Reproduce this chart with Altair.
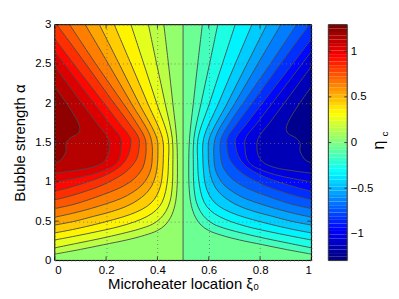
import altair as alt
import pandas as pd
import numpy as np

# ---- contour levels of eta_c (left half, xi0 < 0.5); the right half is antisymmetric ----
LEVELS = [0.1, 0.2, 0.3, 0.4, 0.5, 0.6, 0.7, 0.8, 0.9, 1.0, 1.1, 1.2]

ALPHA_01 = [0.08, 0.14, 0.20, 0.26, 0.32, 0.38, 0.45, 0.55, 0.70, 0.90, 1.20, 1.55, 2.00, 2.50, 3.00]
XI_01 = [0.00, 0.10, 0.19, 0.28, 0.35, 0.40, 0.43, 0.452, 0.468, 0.476, 0.478, 0.475, 0.46, 0.443, 0.425]

ALPHA_02 = [0.16, 0.22, 0.28, 0.34, 0.40, 0.46, 0.53, 0.62, 0.75, 0.95, 1.20, 1.55, 2.00, 2.50, 3.00]
XI_02 = [0.00, 0.09, 0.18, 0.26, 0.33, 0.38, 0.41, 0.432, 0.449, 0.458, 0.46, 0.458, 0.43, 0.397, 0.365]

ALPHA_03 = [0.26, 0.31, 0.37, 0.43, 0.49, 0.56, 0.64, 0.74, 0.88, 1.05, 1.25, 1.55, 2.00, 2.50, 3.00]
XI_03 = [0.00, 0.08, 0.17, 0.25, 0.31, 0.36, 0.395, 0.418, 0.432, 0.44, 0.443, 0.442, 0.397, 0.347, 0.297]

ALPHA_04 = [0.35, 0.40, 0.46, 0.52, 0.58, 0.65, 0.73, 0.83, 0.96, 1.12, 1.30, 1.55, 2.00, 2.50, 3.00]
XI_04 = [0.00, 0.08, 0.16, 0.23, 0.29, 0.34, 0.375, 0.398, 0.413, 0.42, 0.423, 0.42, 0.362, 0.297, 0.232]

ALPHA_05 = [0.45, 0.50, 0.56, 0.62, 0.69, 0.76, 0.85, 0.95, 1.08, 1.22, 1.38, 1.55, 2.00, 2.50, 3.00]
XI_05 = [0.00, 0.08, 0.15, 0.22, 0.28, 0.32, 0.355, 0.378, 0.393, 0.40, 0.402, 0.398, 0.328, 0.251, 0.174]

ALPHA_06 = [0.55, 0.60, 0.66, 0.72, 0.79, 0.87, 0.96, 1.06, 1.18, 1.32, 1.45, 1.60, 2.00, 2.50, 3.00]
XI_06 = [0.00, 0.07, 0.14, 0.20, 0.26, 0.305, 0.34, 0.362, 0.376, 0.38, 0.38, 0.37, 0.298, 0.209, 0.119]

ALPHA_07 = [0.66, 0.71, 0.77, 0.84, 0.91, 0.99, 1.08, 1.18, 1.30, 1.42, 1.55, 1.75, 2.10, 2.50, 3.00]
XI_07 = [0.00, 0.07, 0.13, 0.19, 0.245, 0.29, 0.322, 0.343, 0.353, 0.356, 0.352, 0.318, 0.245, 0.16, 0.058]

ALPHA_08 = [0.77, 0.82, 0.88, 0.95, 1.03, 1.11, 1.20, 1.30, 1.42, 1.55, 1.75, 2.05, 2.40, 2.70, 3.00]
XI_08 = [0.00, 0.06, 0.12, 0.18, 0.23, 0.27, 0.30, 0.32, 0.328, 0.328, 0.288, 0.22, 0.143, 0.076, 0.008]

ALPHA_09 = [0.88, 0.93, 0.99, 1.06, 1.14, 1.23, 1.33, 1.45, 1.55, 1.75, 2.05, 2.40, 2.82]
XI_09 = [0.00, 0.06, 0.12, 0.18, 0.23, 0.265, 0.285, 0.295, 0.295, 0.25, 0.18, 0.097, 0.00]

ALPHA_10 = [1.00, 1.04, 1.09, 1.15, 1.22, 1.30, 1.40, 1.55, 1.75, 2.00, 2.30, 2.66]
XI_10 = [0.00, 0.07, 0.14, 0.195, 0.235, 0.252, 0.258, 0.257, 0.211, 0.153, 0.083, 0.00]

ALPHA_11 = [1.11, 1.14, 1.18, 1.24, 1.32, 1.42, 1.55, 1.75, 2.00, 2.20, 2.47]
XI_11 = [0.00, 0.07, 0.14, 0.185, 0.205, 0.212, 0.208, 0.163, 0.106, 0.061, 0.00]

ALPHA_12 = [1.24, 1.28, 1.39, 1.49, 1.55, 1.62, 1.68, 1.77, 1.98, 2.21]
XI_12 = [0.00, 0.024, 0.044, 0.044, 0.057, 0.092, 0.098, 0.089, 0.05, 0.00]

ZERO_CONTOUR_XI = [0.5]

X_TICKS = [0, 0.2, 0.4, 0.6, 0.8, 1]
Y_TICKS = [0, 0.5, 1, 1.5, 2, 2.5, 3]
CB_TICKS = [-1, -0.5, 0, 0.5, 1]
C_MIN, C_MAX = -1.29, 1.29

CONTOURS = [
    (LEVELS[0], ALPHA_01, XI_01), (LEVELS[1], ALPHA_02, XI_02), (LEVELS[2], ALPHA_03, XI_03),
    (LEVELS[3], ALPHA_04, XI_04), (LEVELS[4], ALPHA_05, XI_05), (LEVELS[5], ALPHA_06, XI_06),
    (LEVELS[6], ALPHA_07, XI_07), (LEVELS[7], ALPHA_08, XI_08), (LEVELS[8], ALPHA_09, XI_09),
    (LEVELS[9], ALPHA_10, XI_10), (LEVELS[10], ALPHA_11, XI_11), (LEVELS[11], ALPHA_12, XI_12),
]


def jet_hex(v):
    v = min(max(v, 0.0), 1.0)
    r = min(max(1.5 - abs(4 * v - 3), 0), 1)
    g = min(max(1.5 - abs(4 * v - 2), 0), 1)
    b = min(max(1.5 - abs(4 * v - 1), 0), 1)
    return "#{:02x}{:02x}{:02x}".format(round(r * 255), round(g * 255), round(b * 255))


def eta_color(eta):
    return jet_hex((eta - C_MIN) / (C_MAX - C_MIN))


W, H = 258, 237
CBW = 19
LINE = "#4a4a4a"
FONT = "Liberation Sans"

xs = alt.Scale(domain=[0, 1], nice=False, zero=False)
ys = alt.Scale(domain=[0, 3], nice=False, zero=False)

axis_common = dict(
    labelFontSize=11.5, titleFontSize=15, titleFontWeight="normal",
    labelColor="black", titleColor="black", ticks=False, tickSize=0,
    domain=False, grid=True, gridDash=[1, 3], gridColor="#6f6f6f",
    gridWidth=0.8, zindex=1, format="~g", labelFont=FONT, titleFont=FONT,
)
x_axis = alt.Axis(title="Microheater location ξ₀", values=X_TICKS, labelPadding=4,
                  titlePadding=1, **axis_common)
y_axis = alt.Axis(title="Bubble strength α", values=Y_TICKS, labelPadding=4,
                  titlePadding=7, **axis_common)


def X(field):
    return alt.X(field, scale=xs, axis=x_axis)


def Y(field):
    return alt.Y(field, scale=ys, axis=y_axis)


# background bands (0 < eta < 0.1 on the left, -0.1 < eta < 0 on the right)
base_df = pd.DataFrame({"x0": [0, ZERO_CONTOUR_XI[0]], "x1": [ZERO_CONTOUR_XI[0], 1],
                        "y0": [0, 0], "y1": [3, 3],
                        "c": [eta_color(0.05), eta_color(-0.05)]})
base = alt.Chart(base_df).mark_rect().encode(
    x=X("x0:Q"), x2="x1:Q", y=Y("y0:Q"), y2="y1:Q",
    color=alt.Color("c:N", scale=None),
)

layers = [base]
line_rows = []
for lev, A, XX in CONTOURS:
    d = pd.DataFrame({"alpha": A, "xi": XX})
    d["xr"] = 1 - d["xi"]
    d["zero"] = 0.0
    d["one"] = 1.0
    left = alt.Chart(d).mark_area(orient="horizontal", interpolate="catmull-rom",
                                  color=eta_color(lev + 0.05), clip=True).encode(
        y=Y("alpha:Q"), x=X("xi:Q"), x2="zero:Q")
    right = alt.Chart(d).mark_area(orient="horizontal", interpolate="catmull-rom",
                                   color=eta_color(-(lev + 0.05)), clip=True).encode(
        y=Y("alpha:Q"), x=X("xr:Q"), x2="one:Q")
    layers += [left, right]
    for i, (a, x) in enumerate(zip(A, XX)):
        line_rows.append({"level": lev, "i": i, "alpha": a, "xi": x, "xr": 1 - x})

lines_df = pd.DataFrame(line_rows)
for fld in ["xi", "xr"]:
    layers.append(alt.Chart(lines_df).mark_line(
        interpolate="catmull-rom", color=LINE, strokeWidth=0.9, clip=True).encode(
        x=X(f"{fld}:Q"), y=Y("alpha:Q"), detail="level:N", order="i:Q"))

layers.append(alt.Chart(pd.DataFrame({"x": ZERO_CONTOUR_XI})).mark_rule(
    color=LINE, strokeWidth=0.9).encode(x=X("x:Q")))

xt = pd.DataFrame({"t": X_TICKS})
yt = pd.DataFrame({"t": Y_TICKS})
TICK_COL = "#222222"
layers.append(alt.Chart(xt).mark_rule(color=TICK_COL, strokeWidth=0.8).encode(
    x=X("t:Q"), y=alt.value(H), y2=alt.value(H - 4)))
layers.append(alt.Chart(xt).mark_rule(color=TICK_COL, strokeWidth=0.8).encode(
    x=X("t:Q"), y=alt.value(0), y2=alt.value(4)))
layers.append(alt.Chart(yt).mark_rule(color=TICK_COL, strokeWidth=0.8).encode(
    y=Y("t:Q"), x=alt.value(0), x2=alt.value(4)))
layers.append(alt.Chart(yt).mark_rule(color=TICK_COL, strokeWidth=0.8).encode(
    y=Y("t:Q"), x=alt.value(W), x2=alt.value(W - 4)))

one = pd.DataFrame({"k": [0]})
layers.append(alt.Chart(one).mark_rect(filled=False, stroke="black", strokeWidth=1).encode(
    x=alt.value(0), x2=alt.value(W), y=alt.value(0), y2=alt.value(H)))

main = alt.layer(*layers).properties(width=W, height=H)

# ---- colour bar ----
edges = np.linspace(C_MIN, C_MAX, 65)
cb_df = pd.DataFrame({"lo": edges[:-1], "hi": edges[1:],
                      "c": [jet_hex(i / 63) for i in range(64)]})
cscale = alt.Scale(domain=[C_MIN, C_MAX], nice=False, zero=False)
cb_axis = alt.Axis(orient="right", values=CB_TICKS, format="~g", ticks=False, tickSize=0,
                   domain=False, grid=False, labelPadding=3, title=None,
                   labelFontSize=11.5, labelColor="black", labelFont=FONT)


def CY(field):
    return alt.Y(field, scale=cscale, axis=cb_axis)


cb_rect = alt.Chart(cb_df).mark_rect().encode(
    y=CY("lo:Q"), y2="hi:Q",
    x=alt.value(0), x2=alt.value(CBW), color=alt.Color("c:N", scale=None))
cbt = pd.DataFrame({"t": CB_TICKS})
cb_t1 = alt.Chart(cbt).mark_rule(color=TICK_COL, strokeWidth=0.8).encode(
    y=CY("t:Q"), x=alt.value(0), x2=alt.value(3))
cb_t2 = alt.Chart(cbt).mark_rule(color=TICK_COL, strokeWidth=0.8).encode(
    y=CY("t:Q"), x=alt.value(CBW - 3), x2=alt.value(CBW))
cb_border = alt.Chart(one).mark_rect(filled=False, stroke="#333333", strokeWidth=1).encode(
    x=alt.value(0), x2=alt.value(CBW), y=alt.value(0), y2=alt.value(H))
eta_txt = alt.Chart(one).mark_text(text="η", angle=270, fontSize=16, font=FONT,
                                   align="center", baseline="middle", color="black").encode(
    x=alt.value(51), y=alt.value(121))
c_txt = alt.Chart(one).mark_text(text="c", angle=270, fontSize=10, font=FONT,
                                 align="center", baseline="middle", color="black").encode(
    x=alt.value(57), y=alt.value(110))
cbar = alt.layer(cb_rect, cb_t1, cb_t2, cb_border, eta_txt, c_txt).properties(width=CBW, height=H)

chart = alt.hconcat(main, cbar, spacing=15, padding={"left": 4, "top": 9, "right": 0, "bottom": 0}
                    ).configure_view(stroke=None).configure(font=FONT)

chart.save("out.html", embed_options={"renderer": "svg", "actions": False})
